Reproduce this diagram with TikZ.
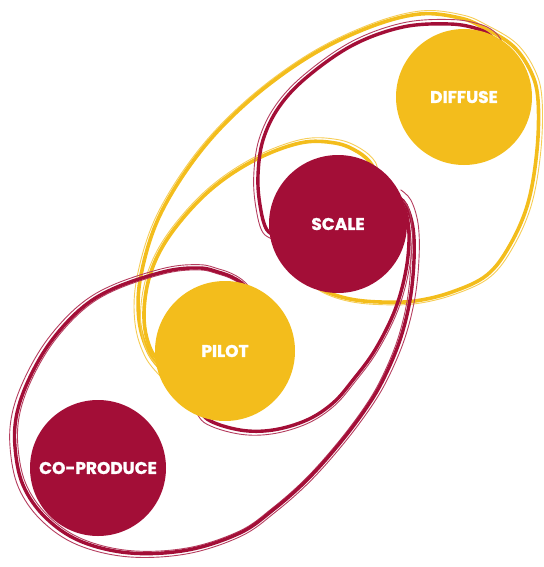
\documentclass[tikz,border=0pt]{standalone}
\usepackage{fontspec}
\setmainfont{Poppins}[BoldFeatures={FakeBold=1.2}]
\definecolor{crim}{RGB}{163,14,55}
\definecolor{gold}{RGB}{243,189,28}
\tikzset{
  thickY/.style={draw=gold, line width=3.6pt, line cap=round},
  thinY/.style={draw=gold!75, line width=0.9pt, line cap=round},
  thickC/.style={draw=crim, line width=3.4pt, line cap=round},
  thinC/.style={draw=crim!80, line width=0.9pt, line cap=round},
  disc/.style={circle, inner sep=0pt, minimum size=#1, text=white,
    font=\fontsize{17}{17}\selectfont\bfseries},
}
\newcommand\ybig[1]{\draw[#1] plot[smooth,tension=0.6] coordinates{(170,378) (150,355) (139,320) (141,275) (160,215) (200,152) (250,100) (310,56) (370,27) (420,14) (460,18) (484,28) (513,46) (531,72) (538,100) (537,150) (528,203) (510,245) (487,275) (452,292) (415,301) (380,302) (350,299) (325,291) (305,278)};}
\newcommand\yinner[1]{\draw[#1] plot[smooth,tension=0.6] coordinates{(172,372) (152,352) (144,318) (150,275) (170,235) (208,192) (253,161) (300,143) (335,143) (358,152) (372,165) (375,180)};}
\newcommand\cupper[1]{\draw[#1] plot[smooth,tension=0.6] coordinates{(282,238) (267,230) (260,205) (258,175) (263,140) (279,107) (307,77) (353,45) (403,27) (450,24) (478,29) (492,37) (498,46)};}
\newcommand\clower[1]{\draw[#1] plot[smooth,tension=0.6] coordinates{(256,300) (244,285) (232,277) (218,272) (200,268) (167,271) (117,287) (83,307) (52,340) (30,377) (17,413) (15,447) (23,485) (45,517) (80,541) (130,553) (188,550) (240,533) (273,510) (307,480) (340,443) (367,407) (384,378) (400,340) (410,300) (414,260) (413,228) (406,205) (396,195)};}
\newcommand\cpilot[1]{\draw[#1] plot[smooth,tension=0.6] coordinates{(196,400) (207,419) (240,430) (273,430) (307,420) (333,403) (353,380) (375,350) (395,310) (406,270) (409,235) (405,210) (395,200)};}
\begin{document}
\begin{tikzpicture}[x=1pt,y=-1pt]
\useasboundingbox (0,0) rectangle (543,567);
% yellow loops
\ybig{thinY, scale around={1.02:(340,170)}}
\ybig{thickY}
\yinner{thinY, scale around={1.03:(260,260)}}
\yinner{thickY}
% crimson loops
\cupper{thinC, scale around={1.035:(380,150)}}
\cupper{thickC}
\clower{thinC, scale around={1.025:(210,400)}}
\clower{thinC, scale around={0.985:(210,400)}}
\clower{thickC}
\cpilot{thinC, scale around={1.03:(300,300)}}
\cpilot{thickC}
% circles
\node[disc=136pt, fill=crim] (coprod) at (98,468) {CO-PRODUCE};
\node[disc=140pt, fill=gold] (pilot) at (225,351) {PILOT};
\node[disc=138pt, fill=crim] (scale) at (338,224) {SCALE};
\node[disc=136pt, fill=gold] (diffuse) at (464,97) {DIFFUSE};
\end{tikzpicture}
\end{document}
